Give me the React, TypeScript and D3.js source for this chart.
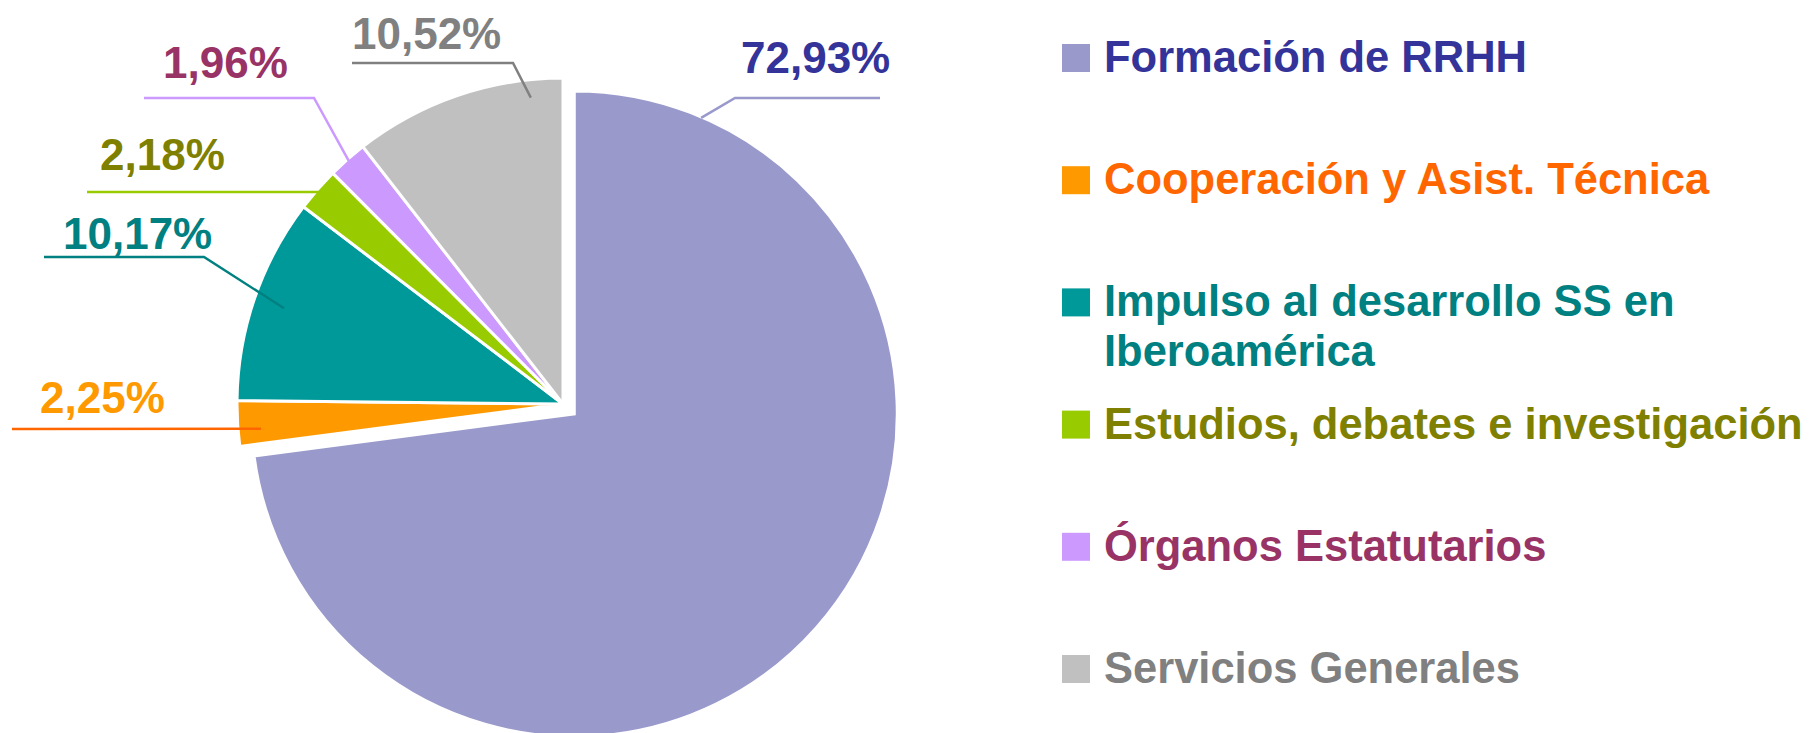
import * as d3 from "d3";

// chart data
const categories = [
  "Formación de RRHH",
  "Cooperación y Asist. Técnica",
  "Impulso al desarrollo SS en Iberoamérica",
  "Estudios, debates e investigación",
  "Órganos Estatutarios",
  "Servicios Generales",
];
const shares = [72.93, 2.25, 10.17, 2.18, 1.96, 10.52];
const shareLabels = ["72,93%", "2,25%", "10,17%", "2,18%", "1,96%", "10,52%"];
// legend text split into lines
const legendLines = [
  ["Formación de RRHH"],
  ["Cooperación y Asist. Técnica"],
  ["Impulso al desarrollo SS en", "Iberoamérica"],
  ["Estudios, debates e investigación"],
  ["Órganos Estatutarios"],
  ["Servicios Generales"],
];

const sliceColors = ["#9999CC", "#FF9900", "#009999", "#99CC00", "#CC99FF", "#C0C0C0"];
const textColors = ["#333399", "#FF6600", "#008080", "#808000", "#993366", "#808080"];
const labelColors = ["#333399", "#FF9900", "#008080", "#808000", "#993366", "#808080"];
const leaderColors = ["#9999CC", "#FF6600", "#008080", "#99CC00", "#CC99FF", "#808080"];

const W = 1816;
const H = 733;
const cx = 563;
const cy = 404;
const R = 326;
const explode = [15, 0, 0, 0, 0, 0];
const radii = [323, R, R, R, R, R];

// where the leader starts (radius + angle in degrees, null = slice mid angle), then elbow/end, label anchor
const leaderStartR = [322, 303, 295, 322, 324, 308];
const leaderStartAngle = [23.2, 265.3, null, null, null, 354];
const labelLayout = [
  { pts: [[735, 98], [880, 98]], tx: 741, ty: 73 },
  { pts: [[12, 429]], tx: 40, ty: 413 },
  { pts: [[204, 257], [44, 257]], tx: 63, ty: 249 },
  { pts: [[87, 192]], tx: 100, ty: 170 },
  { pts: [[314, 98], [144, 98]], tx: 163, ty: 78 },
  { pts: [[513, 63], [352, 63]], tx: 352, ty: 49 },
];

const legendX = 1062;
const legendTop = 72;
const legendStep = 122.2;
const font = "'Liberation Sans', Arial, sans-serif";

export default function App() {
  const pie = d3.pie<number>().sort(null).value((d) => d).startAngle(0).endAngle(2 * Math.PI);
  const arcs = pie(shares);

  const offsetOf = (i: number) => {
    const a = (arcs[i].startAngle + arcs[i].endAngle) / 2;
    return [Math.sin(a) * explode[i], -Math.cos(a) * explode[i]];
  };

  return (
    <div style={{ position: "fixed", left: 0, top: 0 }}>
      <svg width={W} height={H} style={{ display: "block" }}>
        <rect width={W} height={H} fill="#ffffff" />
        <g transform={`translate(${cx},${cy})`}>
          {arcs.map((a, i) => {
            const [ox, oy] = offsetOf(i);
            const path = d3.arc<d3.PieArcDatum<number>>().innerRadius(0).outerRadius(radii[i])(a) as string;
            return (
              <path
                key={i}
                d={path}
                transform={`translate(${ox},${oy})`}
                fill={sliceColors[i]}
                stroke="#ffffff"
                strokeWidth={3}
                strokeLinejoin="miter"
              />
            );
          })}
        </g>
        {arcs.map((a, i) => {
          const [ox, oy] = offsetOf(i);
          const ang = leaderStartAngle[i] != null ? ((leaderStartAngle[i] as number) * Math.PI) / 180 : (a.startAngle + a.endAngle) / 2;
          const sx = cx + ox + Math.sin(ang) * leaderStartR[i];
          const sy = cy + oy - Math.cos(ang) * leaderStartR[i];
          const pts: [number, number][] = [[sx, sy], ...(labelLayout[i].pts as [number, number][])];
          return (
            <g key={i}>
              <path
                d={d3.line()(pts) as string}
                fill="none"
                stroke={leaderColors[i]}
                strokeWidth={2.5}
              />
              <text
                x={labelLayout[i].tx}
                y={labelLayout[i].ty}
                fill={labelColors[i]}
                fontFamily={font}
                fontWeight="bold"
                fontSize={44}
              >
                {shareLabels[i]}
              </text>
            </g>
          );
        })}
        <g>
          {categories.map((c, i) => {
            const base = legendTop + i * legendStep;
            return (
              <g key={c}>
                <rect x={legendX} y={base - 28} width={28} height={28} fill={sliceColors[i]} />
                <text x={legendX + 42} y={base} fill={textColors[i]} fontFamily={font} fontWeight="bold" fontSize={43.5}>
                  {legendLines[i].map((ln, j) => (
                    <tspan key={j} x={legendX + 42} y={base + j * 50}>
                      {ln}
                    </tspan>
                  ))}
                </text>
              </g>
            );
          })}
        </g>
      </svg>
    </div>
  );
}
